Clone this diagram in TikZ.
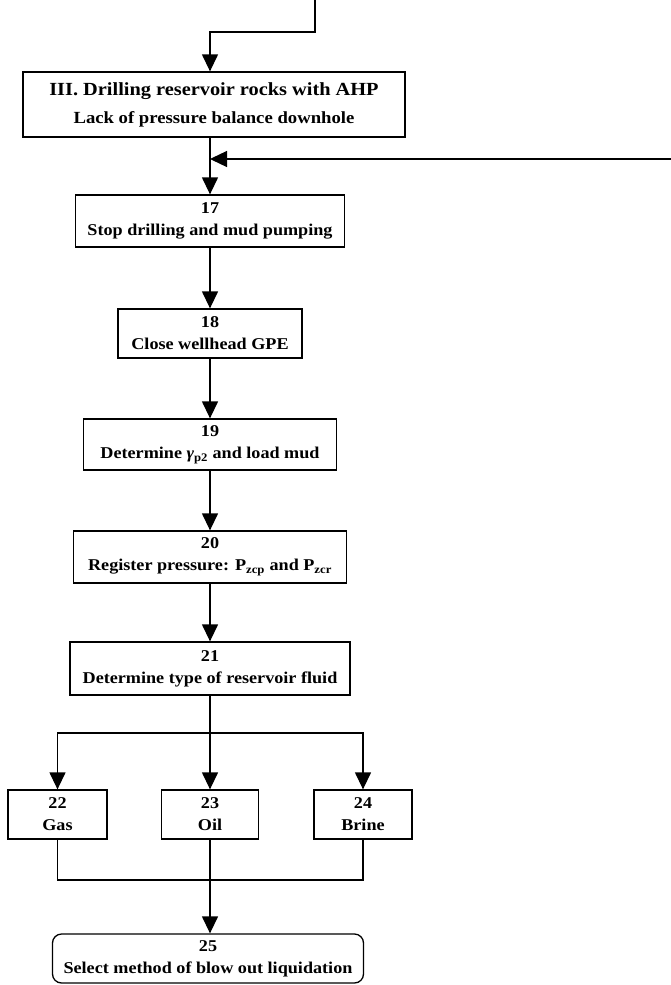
\documentclass[tikz,border=0pt]{standalone}
\usepackage{fontspec}
\setmainfont{Liberation Serif}[FakeStretch=1.10]
\usetikzlibrary{arrows.meta}
\begin{document}
\begin{tikzpicture}[x=1pt,y=-1pt,
  box/.style={draw, line width=1.3pt, inner sep=0pt, align=center,
    font=\fontsize{16.5}{22}\selectfont\bfseries},
  conn/.style={line width=1.3pt},
  arr/.style={conn, -{Triangle[length=17pt,width=16pt]}}]
\useasboundingbox (0,0) rectangle (671,985);
\fill[white] (0,0) rectangle (671,985);
\node[box, minimum width=382pt, minimum height=65pt,
  font=\fontsize{18.5}{28}\selectfont\bfseries] (III) at (214,104.5)
  {III. Drilling reservoir rocks with AHP\\{\fontsize{17}{28}\selectfont Lack of pressure balance downhole}};
\node[box, minimum width=269pt, minimum height=52pt] (s17) at (210,221)
  {17\\Stop drilling and mud pumping};
\node[box, minimum width=184pt, minimum height=49pt] (s18) at (210,333.5)
  {18\\Close wellhead GPE};
\node[box, minimum width=253pt, minimum height=51pt] (s19) at (210,444.5)
  {19\\Determine \textit{γ}\textsubscript{p2} and load mud};
\node[box, minimum width=273pt, minimum height=52pt] (s20) at (210,557)
  {20\\Register pressure: P\textsubscript{zcp} and P\textsubscript{zcr}};
\node[box, minimum width=280pt, minimum height=53pt] (s21) at (210,668.5)
  {21\\Determine type of reservoir fluid};
\node[box, minimum width=99pt, minimum height=49pt] (s22) at (57.5,814.5)
  {22\\Gas};
\node[box, minimum width=97pt, minimum height=49pt] (s23) at (210,814.5)
  {23\\Oil};
\node[box, minimum width=98pt, minimum height=49pt] (s24) at (363,814.5)
  {24\\Brine};
\node[box, rounded corners=9pt, minimum width=311pt, minimum height=49pt] (s25) at (208,958.5)
  {25\\Select method of blow out liquidation};
\coordinate (src) at (315,0);
\coordinate (fb) at (671,159);
\coordinate (br) at (210,733);
\coordinate (mg) at (210,880);
\draw[arr] (src) -- (315,32) -| (s17.north |- III.north);
\draw[arr] (s17.north |- III.south) -- (s17.north);
\draw[arr] (fb) -- (fb -| s17.north);
\draw[arr] (s17.south) -- (s18.north);
\draw[arr] (s18.south) -- (s19.north);
\draw[arr] (s19.south) -- (s20.north);
\draw[arr] (s20.south) -- (s21.north);
\draw[conn] (s21.south) -- (br);
\draw[arr] (br) -| (s22.north);
\draw[arr] (br) -| (s24.north);
\draw[arr] (br) -- (s23.north);
\draw[conn] (s22.south) |- (mg);
\draw[conn] (s24.south) |- (mg);
\draw[arr] (s23.south) -- (s23.south |- s25.north);
\end{tikzpicture}
\end{document}
